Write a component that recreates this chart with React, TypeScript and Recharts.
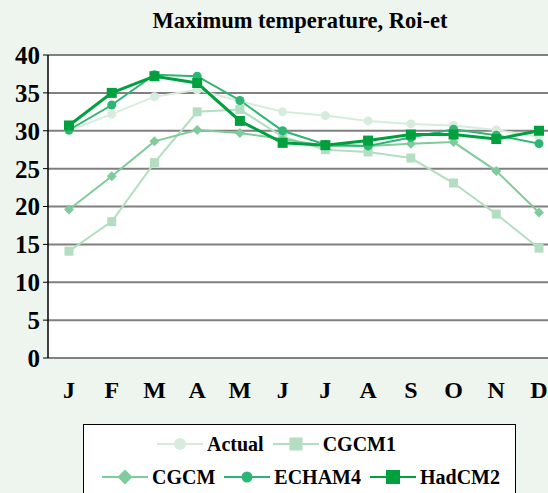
import React from 'react';
import { LineChart, Line, XAxis, YAxis, CartesianGrid, Legend } from 'recharts';

const monthKeys = ['Jan', 'Feb', 'Mar', 'Apr', 'May', 'Jun', 'Jul', 'Aug', 'Sep', 'Oct', 'Nov', 'Dec'];
const tickLabels = ['J', 'F', 'M', 'A', 'M', 'J', 'J', 'A', 'S', 'O', 'N', 'D'];
const yTicks = [0, 5, 10, 15, 20, 25, 30, 35, 40];
const boundaryTicks = [0, 1, 2, 3, 4, 5, 6, 7, 8, 9, 10, 11, 12];

const actual = [30.0, 32.2, 34.5, 35.4, 33.9, 32.5, 32.0, 31.3, 30.9, 30.7, 30.1, 29.2];
const cgcm1 = [14.1, 18.0, 25.8, 32.5, 32.8, 29.2, 27.5, 27.2, 26.4, 23.1, 19.0, 14.5];
const cgcm = [19.6, 24.0, 28.6, 30.1, 29.7, 28.9, 28.0, 28.0, 28.3, 28.5, 24.7, 19.2];
const echam4 = [30.1, 33.4, 37.4, 37.2, 34.0, 30.0, 28.2, 28.0, 29.1, 30.2, 29.4, 28.3];
const hadcm2 = [30.7, 35.0, 37.2, 36.3, 31.3, 28.4, 28.1, 28.7, 29.5, 29.5, 28.9, 30.0];

const data = monthKeys.map((m, i) => ({
  month: m,
  Actual: actual[i],
  CGCM1: cgcm1[i],
  CGCM: cgcm[i],
  ECHAM4: echam4[i],
  HadCM2: hadcm2[i],
}));

const C_ACTUAL = '#D8ECDD';
const C_CGCM1 = '#B3DEC2';
const C_CGCM = '#7FCB9C';
const C_ECHAM4 = '#2DB573';
const C_HADCM2 = '#00A03F';

const FONT = '"Liberation Serif", "Times New Roman", serif';

type Shape = 'circle' | 'square' | 'diamond';

function marker(shape: Shape, cx: number, cy: number, size: number, color: string, key?: any) {
  if (shape === 'circle') return <circle key={key} cx={cx} cy={cy} r={size / 2} fill={color} />;
  if (shape === 'square')
    return <rect key={key} x={cx - size / 2} y={cy - size / 2} width={size} height={size} fill={color} />;
  const h = size / 2;
  return (
    <polygon key={key} points={`${cx},${cy - h} ${cx + h},${cy} ${cx},${cy + h} ${cx - h},${cy}`} fill={color} />
  );
}

const makeDot = (shape: Shape, size: number, color: string) => (props: any) => {
  const { cx, cy, index } = props;
  if (cx == null || cy == null) return <g key={index} />;
  return marker(shape, cx, cy, size, color, index);
};

const legendRows: { name: string; shape: Shape; color: string; size: number; width: number }[][] = [
  [
    { name: 'Actual', shape: 'circle', color: C_ACTUAL, size: 12, width: 2 },
    { name: 'CGCM1', shape: 'square', color: C_CGCM1, size: 13, width: 2 },
  ],
  [
    { name: 'CGCM', shape: 'diamond', color: C_CGCM, size: 15, width: 2 },
    { name: 'ECHAM4', shape: 'circle', color: C_ECHAM4, size: 11, width: 2 },
    { name: 'HadCM2', shape: 'square', color: C_HADCM2, size: 14, width: 2 },
  ],
];

const LegendBox = () => (
  <div
    style={{
      width: 433,
      height: 75,
      boxSizing: 'border-box',
      border: '1px solid #000',
      background: '#fff',
      fontFamily: FONT,
      fontWeight: 'bold',
      fontSize: 20,
      color: '#000',
    }}
  >
    {legendRows.map((row, ri) => (
      <div
        key={ri}
        style={{
          display: 'flex',
          alignItems: 'center',
          height: 32,
          marginTop: ri === 0 ? 3 : 1,
          paddingLeft: ri === 0 ? 73 : 18,
        }}
      >
        {row.map((it) => (
          <div key={it.name} style={{ display: 'flex', alignItems: 'center', marginRight: 9 }}>
            <svg width={46} height={16} style={{ marginRight: 4 }}>
              <line x1={0} y1={8} x2={46} y2={8} stroke={it.color} strokeWidth={it.width} />
              {marker(it.shape, 23, 8, it.size, it.color)}
            </svg>
            <span>{it.name}</span>
          </div>
        ))}
      </div>
    ))}
  </div>
);

export default function App() {
  return (
    <div
      style={{
        position: 'absolute',
        left: 0,
        top: 0,
        width: 548,
        height: 493,
        overflow: 'hidden',
        background: '#EEF5EE',
      }}
    >
      <div
        style={{
          position: 'absolute',
          left: 0,
          top: 7,
          width: 600,
          textAlign: 'center',
          fontFamily: FONT,
          fontWeight: 'bold',
          fontSize: 22.5,
          color: '#000',
          lineHeight: '28px',
          zIndex: 2,
        }}
      >
        Maximum temperature, Roi-et
      </div>
      <LineChart width={570} height={493} data={data} margin={{ top: 55, right: 10, left: 0, bottom: 25 }}>
        <CartesianGrid vertical={false} stroke="#808080" strokeWidth={2} fill="#fff" yAxisId={0} xAxisId={0} />
        <XAxis
          xAxisId={0}
          type="number"
          domain={[0, 12]}
          ticks={boundaryTicks}
          allowDataOverflow
          tick={false}
          tickSize={5}
          height={0}
          axisLine={{ stroke: '#000', strokeWidth: 1.5 }}
          tickLine={{ stroke: '#000', strokeWidth: 1 }}
        />
        <XAxis
          xAxisId={1}
          dataKey="month"
          height={35}
          padding={{ left: 21, right: 21 }}
          axisLine={false}
          tickLine={false}
          tickSize={0}
          tickMargin={23}
          interval={0}
          tickFormatter={(v: any, i: number) => tickLabels[i]}
          tick={{ fontSize: 24, fontWeight: 'bold', fill: '#000', fontFamily: FONT }}
        />
        <YAxis
          width={48}
          domain={[0, 40]}
          ticks={yTicks}
          interval={0}
          tickSize={5}
          tickMargin={3}
          axisLine={{ stroke: '#000', strokeWidth: 1.5 }}
          tickLine={{ stroke: '#000', strokeWidth: 1 }}
          tick={{ fontSize: 25, fontWeight: 'bold', fill: '#000', fontFamily: FONT }}
        />
        <Legend
          verticalAlign="bottom"
          content={() => <LegendBox />}
          wrapperStyle={{ left: 83, top: 424, width: 433 }}
        />
        <Line
          xAxisId={1}
          dataKey="Actual"
          stroke={C_ACTUAL}
          strokeWidth={2}
          dot={makeDot('circle', 9, C_ACTUAL)}
          isAnimationActive={false}
        />
        <Line
          xAxisId={1}
          dataKey="CGCM1"
          stroke={C_CGCM1}
          strokeWidth={2}
          dot={makeDot('square', 9, C_CGCM1)}
          isAnimationActive={false}
        />
        <Line
          xAxisId={1}
          dataKey="CGCM"
          stroke={C_CGCM}
          strokeWidth={2}
          dot={makeDot('diamond', 10, C_CGCM)}
          isAnimationActive={false}
        />
        <Line
          xAxisId={1}
          dataKey="ECHAM4"
          stroke={C_ECHAM4}
          strokeWidth={2}
          dot={makeDot('circle', 9, C_ECHAM4)}
          isAnimationActive={false}
        />
        <Line
          xAxisId={1}
          dataKey="HadCM2"
          stroke={C_HADCM2}
          strokeWidth={3}
          dot={makeDot('square', 10, C_HADCM2)}
          isAnimationActive={false}
        />
      </LineChart>
    </div>
  );
}
